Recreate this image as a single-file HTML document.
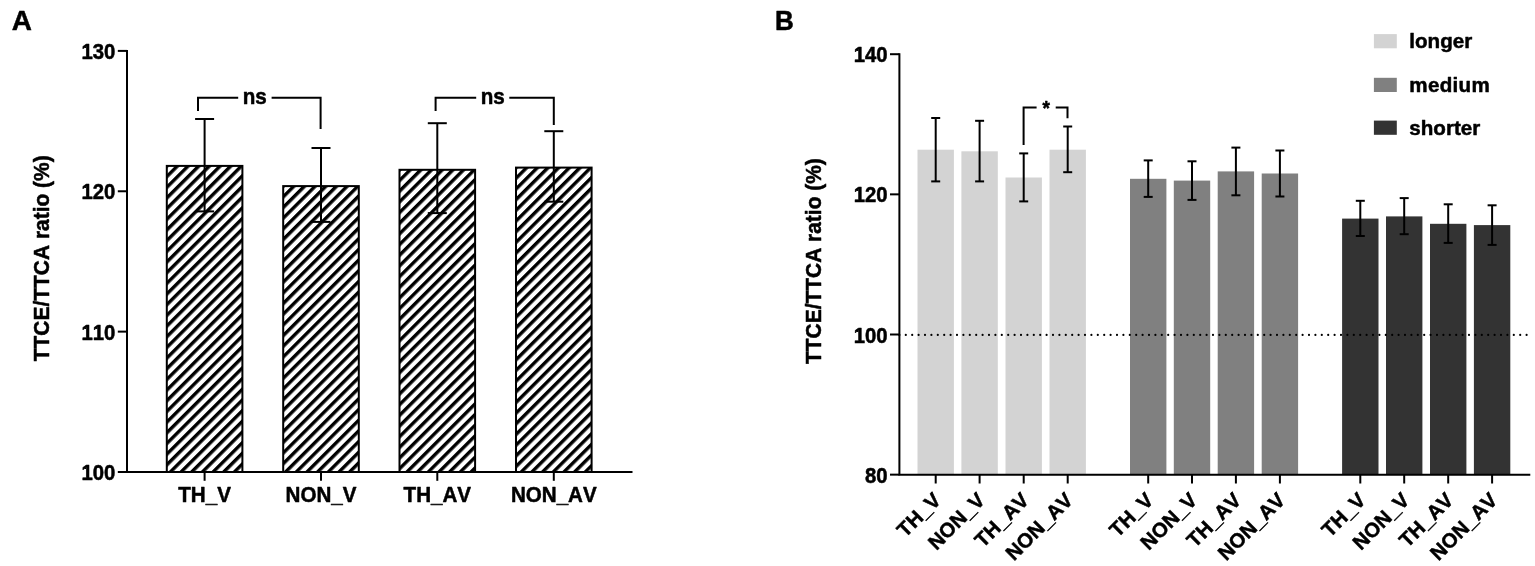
<!DOCTYPE html>
<html lang="en">
<head>
<meta charset="utf-8">
<title>TTCE/TTCA ratio</title>
<style>
html,body{margin:0;padding:0;background:#fff;}
body{width:1535px;height:566px;overflow:hidden;}
svg{display:block;}
text{font-family:"Liberation Sans",Arial,Helvetica,sans-serif;font-weight:bold;fill:#000;stroke:#000;stroke-width:0.5px;stroke-linejoin:round;font-kerning:none;}
</style>
</head>
<body>
<svg width="1535" height="566" viewBox="0 0 1535 566">
<defs>
<pattern id="hatch0" patternUnits="userSpaceOnUse" width="7.548" height="7.548" patternTransform="rotate(-45) translate(0 7.174)">
<rect x="-1" y="0" width="9.548" height="3.400" fill="#000"/>
</pattern>
<pattern id="hatch1" patternUnits="userSpaceOnUse" width="7.548" height="7.548" patternTransform="rotate(-45) translate(0 5.636)">
<rect x="-1" y="0" width="9.548" height="3.400" fill="#000"/>
</pattern>
<pattern id="hatch2" patternUnits="userSpaceOnUse" width="7.548" height="7.548" patternTransform="rotate(-45) translate(0 0.863)">
<rect x="-1" y="0" width="9.548" height="3.400" fill="#000"/>
</pattern>
<pattern id="hatch3" patternUnits="userSpaceOnUse" width="7.548" height="7.548" patternTransform="rotate(-45) translate(0 6.202)">
<rect x="-1" y="0" width="9.548" height="3.400" fill="#000"/>
</pattern>
</defs>
<rect x="0" y="0" width="1535" height="566" fill="#fff"/>
<g id="panelA">
<text transform="translate(11.70 30.00) scale(1.000 1.000)" font-size="27.90" text-anchor="start">A</text>
<rect x="166.80" y="165.90" width="75.60" height="306.10" fill="url(#hatch0)" stroke="#000" stroke-width="2"/>
<rect x="283.20" y="186.10" width="75.60" height="285.90" fill="url(#hatch1)" stroke="#000" stroke-width="2"/>
<rect x="399.50" y="169.80" width="75.60" height="302.20" fill="url(#hatch2)" stroke="#000" stroke-width="2"/>
<rect x="516.00" y="167.60" width="75.60" height="304.40" fill="url(#hatch3)" stroke="#000" stroke-width="2"/>
<line x1="204.60" y1="119.00" x2="204.60" y2="211.40" stroke="#000" stroke-width="2.00" />
<line x1="195.10" y1="119.00" x2="214.10" y2="119.00" stroke="#000" stroke-width="2.00" />
<line x1="195.10" y1="211.40" x2="214.10" y2="211.40" stroke="#000" stroke-width="2.00" />
<line x1="321.00" y1="148.00" x2="321.00" y2="221.90" stroke="#000" stroke-width="2.00" />
<line x1="311.50" y1="148.00" x2="330.50" y2="148.00" stroke="#000" stroke-width="2.00" />
<line x1="311.50" y1="221.90" x2="330.50" y2="221.90" stroke="#000" stroke-width="2.00" />
<line x1="437.30" y1="123.20" x2="437.30" y2="213.10" stroke="#000" stroke-width="2.00" />
<line x1="427.80" y1="123.20" x2="446.80" y2="123.20" stroke="#000" stroke-width="2.00" />
<line x1="427.80" y1="213.10" x2="446.80" y2="213.10" stroke="#000" stroke-width="2.00" />
<line x1="553.80" y1="131.20" x2="553.80" y2="201.70" stroke="#000" stroke-width="2.00" />
<line x1="544.30" y1="131.20" x2="563.30" y2="131.20" stroke="#000" stroke-width="2.00" />
<line x1="544.30" y1="201.70" x2="563.30" y2="201.70" stroke="#000" stroke-width="2.00" />
<path d="M127.00 49.90 V472.00 H632.50" fill="none" stroke="#000" stroke-width="2" stroke-linejoin="miter"/>
<line x1="117.80" y1="472.00" x2="127.00" y2="472.00" stroke="#000" stroke-width="2.00" />
<text transform="translate(115.40 480.20) scale(1.000 1.070)" font-size="20.30" text-anchor="end">100</text>
<line x1="117.80" y1="331.63" x2="127.00" y2="331.63" stroke="#000" stroke-width="2.00" />
<text transform="translate(115.40 339.83) scale(1.000 1.070)" font-size="20.30" text-anchor="end">110</text>
<line x1="117.80" y1="191.27" x2="127.00" y2="191.27" stroke="#000" stroke-width="2.00" />
<text transform="translate(115.40 199.47) scale(1.000 1.070)" font-size="20.30" text-anchor="end">120</text>
<line x1="117.80" y1="50.90" x2="127.00" y2="50.90" stroke="#000" stroke-width="2.00" />
<text transform="translate(115.40 59.10) scale(1.000 1.070)" font-size="20.30" text-anchor="end">130</text>
<line x1="204.60" y1="472.00" x2="204.60" y2="480.80" stroke="#000" stroke-width="2.00" />
<text transform="translate(204.60 502.20) scale(1.000 1.040)" font-size="20.60" text-anchor="middle">TH_V</text>
<line x1="321.00" y1="472.00" x2="321.00" y2="480.80" stroke="#000" stroke-width="2.00" />
<text transform="translate(321.00 502.20) scale(1.000 1.040)" font-size="20.60" text-anchor="middle">NON_V</text>
<line x1="437.30" y1="472.00" x2="437.30" y2="480.80" stroke="#000" stroke-width="2.00" />
<text transform="translate(437.30 502.20) scale(1.000 1.040)" font-size="20.60" text-anchor="middle">TH_AV</text>
<line x1="553.80" y1="472.00" x2="553.80" y2="480.80" stroke="#000" stroke-width="2.00" />
<text transform="translate(553.80 502.20) scale(1.000 1.040)" font-size="20.60" text-anchor="middle">NON_AV</text>
<path d="M198.00 111.00 V97.80 H238.20" fill="none" stroke="#000" stroke-width="2" stroke-linecap="butt" stroke-linejoin="miter"/>
<path d="M271.60 97.80 H320.60 V129.00" fill="none" stroke="#000" stroke-width="2" stroke-linecap="butt" stroke-linejoin="miter"/>
<text transform="translate(254.70 103.80) scale(1.000 1.040)" font-size="20.60" text-anchor="middle">ns</text>
<path d="M435.60 111.00 V97.80 H476.20" fill="none" stroke="#000" stroke-width="2" stroke-linecap="butt" stroke-linejoin="miter"/>
<path d="M509.30 97.80 H553.80 V125.10" fill="none" stroke="#000" stroke-width="2" stroke-linecap="butt" stroke-linejoin="miter"/>
<text transform="translate(492.70 103.80) scale(1.000 1.040)" font-size="20.60" text-anchor="middle">ns</text>
<text transform="translate(49.20 258.30) rotate(-90) scale(1.000 1.040)" font-size="20.95" text-anchor="middle">TTCE/TTCA ratio (%)</text>
</g>
<g id="panelB">
<text transform="translate(775.00 29.90) scale(1.000 1.030)" font-size="26.00" text-anchor="start">B</text>
<rect x="917.50" y="149.70" width="36.40" height="324.95" fill="#d3d3d3"/>
<rect x="961.40" y="151.30" width="36.40" height="323.35" fill="#d3d3d3"/>
<rect x="1005.50" y="177.50" width="36.40" height="297.15" fill="#d3d3d3"/>
<rect x="1049.50" y="149.70" width="36.40" height="324.95" fill="#d3d3d3"/>
<rect x="1130.00" y="178.80" width="36.40" height="295.85" fill="#808080"/>
<rect x="1173.80" y="180.60" width="36.40" height="294.05" fill="#808080"/>
<rect x="1217.70" y="171.40" width="36.40" height="303.25" fill="#808080"/>
<rect x="1261.70" y="173.50" width="36.40" height="301.15" fill="#808080"/>
<rect x="1342.10" y="218.60" width="36.40" height="256.05" fill="#333333"/>
<rect x="1386.00" y="216.40" width="36.40" height="258.25" fill="#333333"/>
<rect x="1430.00" y="223.80" width="36.40" height="250.85" fill="#333333"/>
<rect x="1473.90" y="225.10" width="36.40" height="249.55" fill="#333333"/>
<line x1="899.40" y1="334.90" x2="1531.00" y2="334.90" stroke="#000" stroke-width="2.2" stroke-linecap="round" stroke-dasharray="0 6.4"/>
<line x1="935.70" y1="118.00" x2="935.70" y2="181.40" stroke="#000" stroke-width="2.00" />
<line x1="931.20" y1="118.00" x2="940.20" y2="118.00" stroke="#000" stroke-width="2.00" />
<line x1="931.20" y1="181.40" x2="940.20" y2="181.40" stroke="#000" stroke-width="2.00" />
<line x1="979.60" y1="120.80" x2="979.60" y2="181.40" stroke="#000" stroke-width="2.00" />
<line x1="975.10" y1="120.80" x2="984.10" y2="120.80" stroke="#000" stroke-width="2.00" />
<line x1="975.10" y1="181.40" x2="984.10" y2="181.40" stroke="#000" stroke-width="2.00" />
<line x1="1023.70" y1="153.40" x2="1023.70" y2="201.40" stroke="#000" stroke-width="2.00" />
<line x1="1019.20" y1="153.40" x2="1028.20" y2="153.40" stroke="#000" stroke-width="2.00" />
<line x1="1019.20" y1="201.40" x2="1028.20" y2="201.40" stroke="#000" stroke-width="2.00" />
<line x1="1067.70" y1="126.50" x2="1067.70" y2="172.20" stroke="#000" stroke-width="2.00" />
<line x1="1063.20" y1="126.50" x2="1072.20" y2="126.50" stroke="#000" stroke-width="2.00" />
<line x1="1063.20" y1="172.20" x2="1072.20" y2="172.20" stroke="#000" stroke-width="2.00" />
<line x1="1148.20" y1="160.40" x2="1148.20" y2="196.90" stroke="#000" stroke-width="2.00" />
<line x1="1143.70" y1="160.40" x2="1152.70" y2="160.40" stroke="#000" stroke-width="2.00" />
<line x1="1143.70" y1="196.90" x2="1152.70" y2="196.90" stroke="#000" stroke-width="2.00" />
<line x1="1192.00" y1="161.30" x2="1192.00" y2="199.90" stroke="#000" stroke-width="2.00" />
<line x1="1187.50" y1="161.30" x2="1196.50" y2="161.30" stroke="#000" stroke-width="2.00" />
<line x1="1187.50" y1="199.90" x2="1196.50" y2="199.90" stroke="#000" stroke-width="2.00" />
<line x1="1235.90" y1="147.60" x2="1235.90" y2="195.30" stroke="#000" stroke-width="2.00" />
<line x1="1231.40" y1="147.60" x2="1240.40" y2="147.60" stroke="#000" stroke-width="2.00" />
<line x1="1231.40" y1="195.30" x2="1240.40" y2="195.30" stroke="#000" stroke-width="2.00" />
<line x1="1279.90" y1="150.50" x2="1279.90" y2="196.50" stroke="#000" stroke-width="2.00" />
<line x1="1275.40" y1="150.50" x2="1284.40" y2="150.50" stroke="#000" stroke-width="2.00" />
<line x1="1275.40" y1="196.50" x2="1284.40" y2="196.50" stroke="#000" stroke-width="2.00" />
<line x1="1360.30" y1="200.80" x2="1360.30" y2="236.00" stroke="#000" stroke-width="2.00" />
<line x1="1355.80" y1="200.80" x2="1364.80" y2="200.80" stroke="#000" stroke-width="2.00" />
<line x1="1355.80" y1="236.00" x2="1364.80" y2="236.00" stroke="#000" stroke-width="2.00" />
<line x1="1404.20" y1="198.10" x2="1404.20" y2="234.20" stroke="#000" stroke-width="2.00" />
<line x1="1399.70" y1="198.10" x2="1408.70" y2="198.10" stroke="#000" stroke-width="2.00" />
<line x1="1399.70" y1="234.20" x2="1408.70" y2="234.20" stroke="#000" stroke-width="2.00" />
<line x1="1448.20" y1="204.30" x2="1448.20" y2="242.90" stroke="#000" stroke-width="2.00" />
<line x1="1443.70" y1="204.30" x2="1452.70" y2="204.30" stroke="#000" stroke-width="2.00" />
<line x1="1443.70" y1="242.90" x2="1452.70" y2="242.90" stroke="#000" stroke-width="2.00" />
<line x1="1492.10" y1="205.30" x2="1492.10" y2="244.90" stroke="#000" stroke-width="2.00" />
<line x1="1487.60" y1="205.30" x2="1496.60" y2="205.30" stroke="#000" stroke-width="2.00" />
<line x1="1487.60" y1="244.90" x2="1496.60" y2="244.90" stroke="#000" stroke-width="2.00" />
<path d="M899.40 53.20 V474.65 H1530.30" fill="none" stroke="#000" stroke-width="2" stroke-linejoin="miter"/>
<line x1="890.00" y1="474.65" x2="899.40" y2="474.65" stroke="#000" stroke-width="2.00" />
<text transform="translate(887.50 482.75) scale(1.000 1.070)" font-size="20.30" text-anchor="end">80</text>
<line x1="890.00" y1="334.50" x2="899.40" y2="334.50" stroke="#000" stroke-width="2.00" />
<text transform="translate(887.50 342.60) scale(1.000 1.070)" font-size="20.30" text-anchor="end">100</text>
<line x1="890.00" y1="194.35" x2="899.40" y2="194.35" stroke="#000" stroke-width="2.00" />
<text transform="translate(887.50 202.45) scale(1.000 1.070)" font-size="20.30" text-anchor="end">120</text>
<line x1="890.00" y1="54.20" x2="899.40" y2="54.20" stroke="#000" stroke-width="2.00" />
<text transform="translate(887.50 62.30) scale(1.000 1.070)" font-size="20.30" text-anchor="end">140</text>
<line x1="935.70" y1="474.65" x2="935.70" y2="483.50" stroke="#000" stroke-width="2.00" />
<text transform="translate(942.20 501.30) rotate(-45) scale(1.000 1.000)" font-size="20.40" text-anchor="end" stroke-width="0.3">TH_V</text>
<line x1="979.60" y1="474.65" x2="979.60" y2="483.50" stroke="#000" stroke-width="2.00" />
<text transform="translate(986.10 501.30) rotate(-45) scale(1.000 1.000)" font-size="20.40" text-anchor="end" stroke-width="0.3">NON_V</text>
<line x1="1023.70" y1="474.65" x2="1023.70" y2="483.50" stroke="#000" stroke-width="2.00" />
<text transform="translate(1030.20 501.30) rotate(-45) scale(1.000 1.000)" font-size="20.40" text-anchor="end" stroke-width="0.3">TH_AV</text>
<line x1="1067.70" y1="474.65" x2="1067.70" y2="483.50" stroke="#000" stroke-width="2.00" />
<text transform="translate(1074.20 501.30) rotate(-45) scale(1.000 1.000)" font-size="20.40" text-anchor="end" stroke-width="0.3">NON_AV</text>
<line x1="1148.20" y1="474.65" x2="1148.20" y2="483.50" stroke="#000" stroke-width="2.00" />
<text transform="translate(1154.70 501.30) rotate(-45) scale(1.000 1.000)" font-size="20.40" text-anchor="end" stroke-width="0.3">TH_V</text>
<line x1="1192.00" y1="474.65" x2="1192.00" y2="483.50" stroke="#000" stroke-width="2.00" />
<text transform="translate(1198.50 501.30) rotate(-45) scale(1.000 1.000)" font-size="20.40" text-anchor="end" stroke-width="0.3">NON_V</text>
<line x1="1235.90" y1="474.65" x2="1235.90" y2="483.50" stroke="#000" stroke-width="2.00" />
<text transform="translate(1242.40 501.30) rotate(-45) scale(1.000 1.000)" font-size="20.40" text-anchor="end" stroke-width="0.3">TH_AV</text>
<line x1="1279.90" y1="474.65" x2="1279.90" y2="483.50" stroke="#000" stroke-width="2.00" />
<text transform="translate(1286.40 501.30) rotate(-45) scale(1.000 1.000)" font-size="20.40" text-anchor="end" stroke-width="0.3">NON_AV</text>
<line x1="1360.30" y1="474.65" x2="1360.30" y2="483.50" stroke="#000" stroke-width="2.00" />
<text transform="translate(1366.80 501.30) rotate(-45) scale(1.000 1.000)" font-size="20.40" text-anchor="end" stroke-width="0.3">TH_V</text>
<line x1="1404.20" y1="474.65" x2="1404.20" y2="483.50" stroke="#000" stroke-width="2.00" />
<text transform="translate(1410.70 501.30) rotate(-45) scale(1.000 1.000)" font-size="20.40" text-anchor="end" stroke-width="0.3">NON_V</text>
<line x1="1448.20" y1="474.65" x2="1448.20" y2="483.50" stroke="#000" stroke-width="2.00" />
<text transform="translate(1454.70 501.30) rotate(-45) scale(1.000 1.000)" font-size="20.40" text-anchor="end" stroke-width="0.3">TH_AV</text>
<line x1="1492.10" y1="474.65" x2="1492.10" y2="483.50" stroke="#000" stroke-width="2.00" />
<text transform="translate(1498.60 501.30) rotate(-45) scale(1.000 1.000)" font-size="20.40" text-anchor="end" stroke-width="0.3">NON_AV</text>
<path d="M1023.60 145.10 V107.60 H1036.60" fill="none" stroke="#000" stroke-width="2" stroke-linecap="butt" stroke-linejoin="miter"/>
<path d="M1055.70 107.60 H1067.50 V118.20" fill="none" stroke="#000" stroke-width="2" stroke-linecap="butt" stroke-linejoin="miter"/>
<text transform="translate(1046.20 115.00) scale(1.000 1.040)" font-size="19.00" text-anchor="middle">*</text>
<text transform="translate(820.60 261.10) rotate(-90) scale(1.000 1.040)" font-size="20.95" text-anchor="middle">TTCE/TTCA ratio (%)</text>
<rect x="1373.9" y="34.10" width="22.9" height="14.2" fill="#d3d3d3"/>
<text transform="translate(1409.30 48.40) scale(1.000 0.950)" font-size="20.60" text-anchor="start">longer</text>
<rect x="1373.9" y="77.80" width="22.9" height="14.2" fill="#808080"/>
<text transform="translate(1409.30 92.10) scale(1.000 0.950)" font-size="20.60" text-anchor="start" letter-spacing="0.3">medium</text>
<rect x="1373.9" y="120.60" width="22.9" height="14.2" fill="#333333"/>
<text transform="translate(1409.30 134.90) scale(1.000 0.950)" font-size="20.60" text-anchor="start">shorter</text>
</g>
</svg>
</body>
</html>
